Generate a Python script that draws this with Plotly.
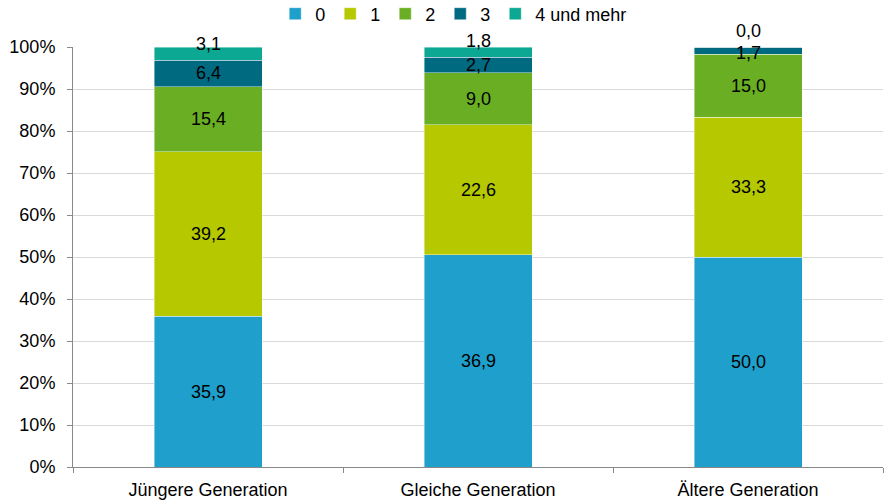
import plotly.graph_objects as go

categories = ["Jüngere Generation", "Gleiche Generation", "Ältere Generation"]
series_names = ["0", "1", "2", "3", "4 und mehr"]
values_0 = [35.9, 36.9, 50.0]
values_1 = [39.2, 22.6, 33.3]
values_2 = [15.4, 9.0, 15.0]
values_3 = [6.4, 2.7, 1.7]
values_4 = [3.1, 1.8, 0.0]
y_ticks = [0, 10, 20, 30, 40, 50, 60, 70, 80, 90, 100]
y_tick_labels = [f"{t}%" for t in y_ticks]

series = [values_0, values_1, values_2, values_3, values_4]
colors = ["#1F9FCB", "#B5C800", "#6AAF23", "#006A80", "#0DA893"]

FONT = "Liberation Sans, Arial, sans-serif"
FS = 18

fig = go.Figure()
for name, vals, col in zip(series_names, series, colors):
    fig.add_trace(go.Bar(
        x=categories, y=vals, name=name, marker_color=col,
        marker_line=dict(color="rgba(255,255,255,0.7)", width=0.6),
        width=0.4, hoverinfo="skip",
    ))

# data labels (centered in normalized segments, raw values shown)
annotations = []
top_shift = [10, 11, 16]
for ci, cat in enumerate(categories):
    total = sum(s[ci] for s in series)
    cum = 0.0
    for si, s in enumerate(series):
        v = s[ci]
        mid = (cum + v / 2) / total * 100
        cum += v
        shift = top_shift[ci] if si == len(series) - 1 else (-2 if (si == 3 and ci == 2) else 0)
        annotations.append(dict(
            x=cat, y=mid, xref="x", yref="y",
            text=f"{v:.1f}".replace(".", ","), showarrow=False,
            yshift=shift, font=dict(family=FONT, size=FS, color="#000000"),
        ))

fig.update_layout(
    barmode="stack", barnorm="percent",
    width=890, height=502,
    margin=dict(l=73, r=7, t=47, b=35, autoexpand=False),
    plot_bgcolor="white", paper_bgcolor="white",
    font=dict(family=FONT, size=FS, color="#000000"),
    legend=dict(orientation="h", x=0.47, xanchor="center", y=1.0786, yanchor="middle",
                font=dict(size=FS), itemwidth=30, traceorder="normal"),
    annotations=annotations,
    showlegend=True,
)
fig.update_xaxes(
    showline=True, linecolor="#898989", linewidth=1,
    ticks="outside", tickson="boundaries", ticklen=5, tickcolor="#898989",
    tickfont=dict(size=FS), showgrid=False, ticklabelstandoff=6,
)
fig.update_yaxes(
    range=[0, 100], tickvals=y_ticks, ticktext=y_tick_labels,
    showline=True, linecolor="#898989", linewidth=1,
    ticks="outside", ticklen=5, tickcolor="#898989",
    showgrid=True, gridcolor="#D9D9D9", gridwidth=1,
    tickfont=dict(size=FS), zeroline=False, ticklabelstandoff=8,
)

fig.write_html(
    "out.html",
    config={"displayModeBar": False},
    post_script="document.body.style.margin='0';document.body.style.padding='0';",
)
